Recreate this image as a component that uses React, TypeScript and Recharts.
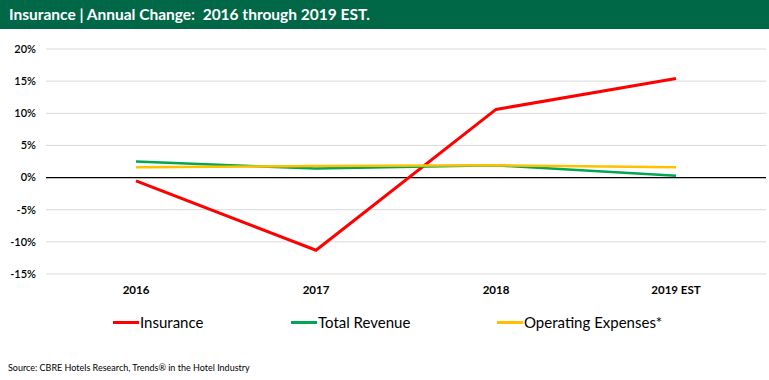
import { LineChart, Line, XAxis, YAxis, CartesianGrid, ReferenceLine } from 'recharts';

const years = ['2016', '2017', '2018', '2019 EST'];
const insurance = [-0.5, -11.3, 10.6, 15.4];
const totalRevenue = [2.5, 1.4, 1.9, 0.3];
const operatingExpenses = [1.6, 1.8, 1.9, 1.6];
const yTicks = [-15, -10, -5, 0, 5, 10, 15, 20];

const series = [
  { key: 'insurance', name: 'Insurance', color: '#ff0000', width: 3 },
  { key: 'revenue', name: 'Total Revenue', color: '#00a651', width: 2.5 },
  { key: 'opex', name: 'Operating Expenses*', color: '#ffc000', width: 2.5 },
];

const data = years.map((y, i) => ({
  year: y,
  insurance: insurance[i],
  revenue: totalRevenue[i],
  opex: operatingExpenses[i],
}));

const font = "'Lato', 'DejaVu Sans', sans-serif";

export default function App() {
  return (
    <div style={{ position: 'absolute', left: 0, top: 0, width: 769, height: 380, background: '#fff', fontFamily: font, overflow: 'hidden' }}>
      {/* Header band */}
      <div style={{
        position: 'absolute', left: 0, top: 0, width: 769, height: 29,
        background: '#006747', color: '#fff', fontWeight: 700, fontSize: 15.5,
        lineHeight: '29px', paddingLeft: 9, boxSizing: 'border-box',
      }}>
        Insurance | Annual Change:&nbsp; 2016 through 2019 EST.
      </div>

      <div style={{ position: 'absolute', left: 0, top: 0 }}>
        <LineChart width={769} height={300} data={data} margin={{ top: 49, right: 3, left: 0, bottom: 0 }}>
          <CartesianGrid vertical={false} stroke="#d9d9d9" strokeWidth={1} />
          <XAxis
            dataKey="year"
            axisLine={false}
            tickLine={false}
            height={26}
            padding={{ left: 90, right: 90 }}
            tick={{ fill: '#000', fontSize: 11.5, fontWeight: 700, fontFamily: font }}
            dy={4}
          />
          <YAxis
            domain={[-15, 20]}
            ticks={yTicks}
            width={46}
            axisLine={false}
            tickLine={false}
            tickFormatter={(v: number) => `${v}%`}
            tick={{ fill: '#000', fontSize: 11, fontWeight: 600, fontFamily: font }}
            dx={-2}
          />
          <ReferenceLine y={0} stroke="#000" strokeWidth={1.2} />
          {series.map(s => (
            <Line
              key={s.key}
              type="linear"
              dataKey={s.key}
              name={s.name}
              stroke={s.color}
              strokeWidth={s.width}
              dot={false}
              isAnimationActive={false}
            />
          ))}
        </LineChart>
      </div>

      {/* Legend */}
      {series.map((s, i) => (
        <div key={s.key} style={{
          position: 'absolute', top: 313, left: [113, 291, 497][i],
          display: 'flex', alignItems: 'center', fontSize: 15, color: '#000',
        }}>
          <span style={{ display: 'inline-block', width: 26, height: 3, background: s.color, marginRight: 1 }} />
          {s.name}
        </div>
      ))}

      {/* Source */}
      <div style={{ position: 'absolute', left: 8, top: 362, fontSize: 9, color: '#000' }}>
        Source: CBRE Hotels Research, Trends® in the Hotel Industry
      </div>
    </div>
  );
}
